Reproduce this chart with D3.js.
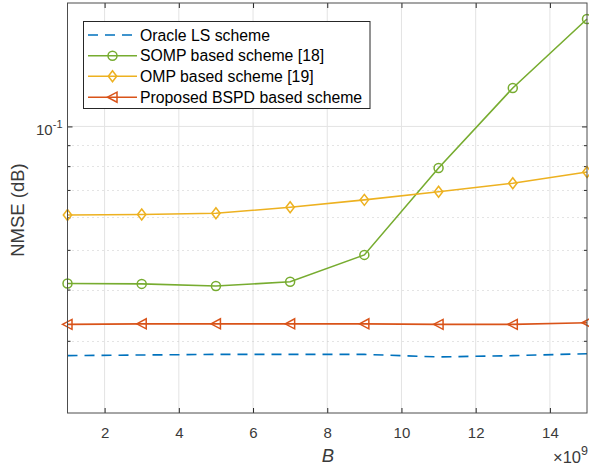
<!DOCTYPE html>
<html>
<head>
<meta charset="utf-8">
<script src="https://cdn.jsdelivr.net/npm/d3@7"></script>
<style>
  html, body { margin: 0; padding: 0; background: #fff; }
  svg { display: block; font-family: "Liberation Sans", Arial, Helvetica, sans-serif; }
</style>
</head>
<body>
<svg id="chart" width="589" height="470"></svg>
<script>
// ---- data ----
const bValues = [1, 3, 5, 7, 9, 11, 13, 15]; // ×10^9
const oracleLS = [0.0276, 0.0277, 0.0278, 0.0278, 0.0278, 0.0274, 0.0276, 0.0279];
const somp     = [0.0414, 0.0413, 0.0408, 0.0418, 0.0486, 0.0792, 0.1241, 0.1828];
const omp      = [0.0608, 0.0610, 0.0614, 0.0635, 0.0662, 0.0693, 0.0727, 0.0774];
const bspd     = [0.0329, 0.0330, 0.0330, 0.0330, 0.0330, 0.0329, 0.0329, 0.0332];
const seriesNames = ["Oracle LS scheme", "SOMP based scheme [18]", "OMP based scheme [19]", "Proposed BSPD based scheme"];
const xTicks = [2, 4, 6, 8, 10, 12, 14];
const yMinorTicks = [0.03, 0.04, 0.05, 0.06, 0.07, 0.08, 0.09];
const yMajorTicks = [0.1];

const series = [
  { name: seriesNames[0], values: oracleLS, color: "#0072BD", dash: "10,7", marker: null },
  { name: seriesNames[1], values: somp, color: "#77AC30", dash: null, marker: "circle" },
  { name: seriesNames[2], values: omp, color: "#EDB120", dash: null, marker: "diamond" },
  { name: seriesNames[3], values: bspd, color: "#D95319", dash: null, marker: "triangle" }
];

// ---- layout ----
const L = 67.5, R = 587, T = 3, B = 413;
const svg = d3.select("#chart");
const x = d3.scaleLinear().domain([1, 15]).range([L, R]);
const y = d3.scaleLog().domain([0.02, 0.2]).range([B, T]);
const axisColor = "#262626";
const textColor = "#3a3a3a";

// grid
const grid = svg.append("g");
grid.selectAll("line.vg").data(xTicks).join("line")
  .attr("x1", d => x(d)).attr("x2", d => x(d)).attr("y1", T).attr("y2", B)
  .attr("stroke", "#e3e3e3").attr("stroke-width", 1);
grid.selectAll("line.hg").data(yMajorTicks).join("line")
  .attr("x1", L).attr("x2", R).attr("y1", d => y(d)).attr("y2", d => y(d))
  .attr("stroke", "#e3e3e3").attr("stroke-width", 1);
grid.selectAll("line.mg").data(yMinorTicks).join("line")
  .attr("x1", L).attr("x2", R).attr("y1", d => Math.round(y(d)) + 0.5).attr("y2", d => Math.round(y(d)) + 0.5)
  .attr("stroke", "#c8c8c8").attr("stroke-width", 1).attr("stroke-dasharray", "1,4");

// axes via d3 (ticks inside)
const tickLen = 5;
svg.append("g").attr("transform", `translate(0,${B})`)
  .call(d3.axisBottom(x).tickValues(xTicks).tickSize(-tickLen).tickPadding(14).tickFormat(d3.format("d")))
  .call(g => { g.select(".domain").remove(); g.selectAll("line").attr("stroke", axisColor);
    g.selectAll("text").attr("fill", textColor).attr("font-size", 15).attr("font-family", "Liberation Sans, Arial, sans-serif"); });
svg.append("g").attr("transform", `translate(0,${T})`)
  .call(d3.axisTop(x).tickValues(xTicks).tickSize(-tickLen).tickFormat(""))
  .call(g => { g.select(".domain").remove(); g.selectAll("line").attr("stroke", axisColor); });
svg.append("g").attr("transform", `translate(${L},0)`)
  .call(d3.axisLeft(y).tickValues(yMajorTicks).tickSize(-tickLen).tickFormat(""))
  .call(g => { g.select(".domain").remove(); g.selectAll("line").attr("stroke", axisColor); });
svg.append("g").attr("transform", `translate(${L},0)`)
  .call(d3.axisLeft(y).tickValues(yMinorTicks).tickSize(-3).tickFormat(""))
  .call(g => { g.select(".domain").remove(); g.selectAll("line").attr("stroke", axisColor); });
svg.append("g").attr("transform", `translate(${R},0)`)
  .call(d3.axisRight(y).tickValues(yMajorTicks).tickSize(-tickLen).tickFormat(""))
  .call(g => { g.select(".domain").remove(); g.selectAll("line").attr("stroke", axisColor); });
svg.append("g").attr("transform", `translate(${R},0)`)
  .call(d3.axisRight(y).tickValues(yMinorTicks).tickSize(-3).tickFormat(""))
  .call(g => { g.select(".domain").remove(); g.selectAll("line").attr("stroke", axisColor); });

// y tick label 10^-1
yMajorTicks.forEach(v => {
  const t = svg.append("text").attr("x", L - 5).attr("y", y(v) + 8.5)
    .attr("text-anchor", "end").attr("font-size", 15).attr("fill", textColor);
  t.append("tspan").text("10");
  t.append("tspan").attr("dy", -7).attr("font-size", 11).text("-1");
});

// series
const line = d3.line().x((d, i) => x(bValues[i])).y(d => y(d));
const plot = svg.append("g");
series.forEach(s => {
  plot.append("path").datum(s.values).attr("d", line)
    .attr("fill", "none").attr("stroke", s.color).attr("stroke-width", 1.6)
    .attr("stroke-dasharray", s.dash);
});

function drawMarker(g, type, cx, cy, color) {
  if (type === "circle") {
    g.append("circle").attr("cx", cx).attr("cy", cy).attr("r", 4.5)
      .attr("fill", "none").attr("stroke", color).attr("stroke-width", 1.5);
  } else if (type === "diamond") {
    g.append("path").attr("d", `M${cx},${cy - 5.5}L${cx + 4.2},${cy}L${cx},${cy + 5.5}L${cx - 4.2},${cy}Z`)
      .attr("fill", "none").attr("stroke", color).attr("stroke-width", 1.5);
  } else if (type === "triangle") {
    g.append("path").attr("d", `M${cx - 5},${cy}L${cx + 4.5},${cy - 5}L${cx + 4.5},${cy + 5}Z`)
      .attr("fill", "none").attr("stroke", color).attr("stroke-width", 1.5);
  }
}
series.forEach(s => {
  if (!s.marker) return;
  s.values.forEach((v, i) => drawMarker(plot, s.marker, x(bValues[i]), y(v), s.color));
});

// box
svg.append("rect").attr("x", L).attr("y", T).attr("width", R - L).attr("height", B - T)
  .attr("fill", "none").attr("stroke", "#4d4d4d").attr("stroke-width", 1);

// labels
svg.append("text").attr("transform", `translate(24,${(T + B) / 2 + 2}) rotate(-90)`)
  .attr("text-anchor", "middle").attr("font-size", 18.5).attr("fill", textColor).text("NMSE (dB)");
svg.append("text").attr("x", 328).attr("y", 462).attr("text-anchor", "middle")
  .attr("font-size", 18.5).attr("font-style", "italic").attr("fill", textColor).text("B");
const mult = svg.append("text").attr("x", 588).attr("y", 463).attr("text-anchor", "end")
  .attr("font-size", 16.5).attr("fill", textColor);
mult.append("tspan").text("\u00d710");
mult.append("tspan").attr("dy", -8).attr("font-size", 12.5).text("9");

// legend
const lg = svg.append("g");
lg.append("rect").attr("x", 83.5).attr("y", 21.5).attr("width", 286.5).attr("height", 87)
  .attr("fill", "#fff").attr("stroke", axisColor).attr("stroke-width", 1);
const rowY = [35, 55.7, 76.2, 97.2];
series.forEach((s, i) => {
  const yy = rowY[i];
  lg.append("line").attr("x1", 88).attr("x2", 137).attr("y1", yy).attr("y2", yy)
    .attr("stroke", s.color).attr("stroke-width", 1.6).attr("stroke-dasharray", s.dash);
  if (s.marker) drawMarker(lg, s.marker, 112.5, yy, s.color);
  lg.append("text").attr("x", 140).attr("y", yy + 5.5).attr("font-size", 15.8)
    .attr("fill", "#000").text(s.name);
});
</script>
</body>
</html>
